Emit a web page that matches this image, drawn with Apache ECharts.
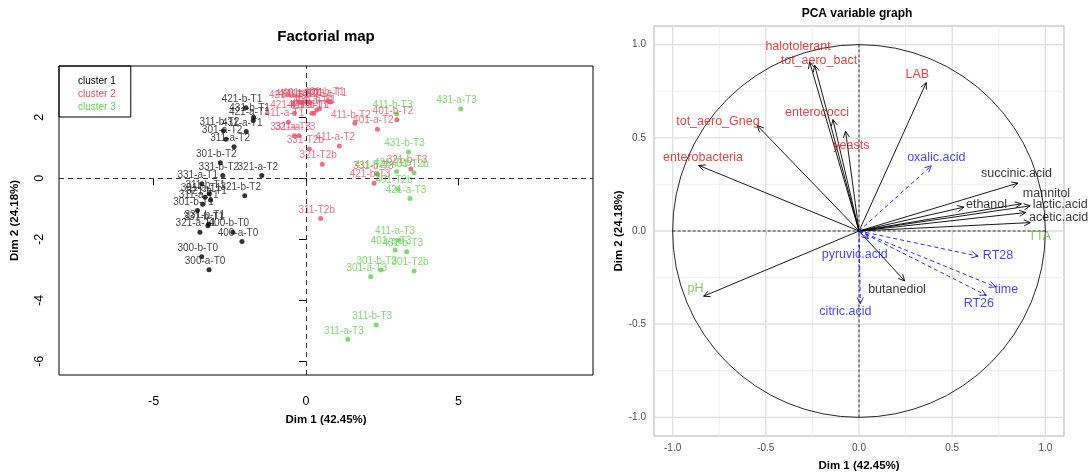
<!DOCTYPE html>
<html><head><meta charset="utf-8">
<script src="https://cdn.jsdelivr.net/npm/echarts@6/dist/echarts.min.js"></script>
<style>html,body{margin:0;padding:0;background:#fff}#c{width:1091px;height:473px}</style>
</head><body><div id="c"></div>
<script>
// ---------- Left panel: factorial map (individuals) ----------
const cluster1Names = ['421-b-T1','431-b-T1','421-a-T1','311-b-T2','431-a-T1','301-a-T2','311-a-T2','301-b-T2','331-b-T2','321-a-T2','331-a-T1','311-b-T1','301-a-T1','321-b-T1','311-a-T1','301-b-T1','321-b-T2','331-b-T1','331-b-T1','321-a-T1','400-b-T0','400-a-T0','300-b-T0','300-a-T0'];
const cluster1X = [-1.97,-1.72,-1.73,-2.71,-1.96,-2.62,-2.36,-2.81,-2.73,-1.45,-3.42,-3.17,-3.31,-3.13,-3.39,-3.56,-2.01,-3.19,-3.22,-3.48,-2.40,-2.10,-3.42,-3.18];
const cluster1Y = [2.31,2.00,1.89,1.56,1.53,1.28,1.03,0.51,0.09,0.09,-0.18,-0.51,-0.62,-0.71,-0.85,-1.06,-0.57,-1.50,-1.56,-1.77,-1.77,-2.07,-2.57,-3.00];

const cluster2Names = ['421-a-T2','431-a-T2','431-b-T2','401-a-T1','411-b-T1','401-b-T1','401-a-T1','421-b-T2','421-a-T1','411-b-T1','401-a-T2','431-b-T1','411-a-T1','331-a-T3','321-a-T3','331-T2b','411-a-T2','411-b-T2','401-a-T2','401-b-T2','321-T2b','321-b-T3','331-b-T3','421-b-T3','311-T2b'];
const cluster2X = [-0.42,-0.22,-0.11,0.02,0.13,0.73,0.81,-0.38,0.19,0.26,0.35,0.44,-0.58,-0.38,-0.23,0.11,1.09,1.60,2.34,2.98,0.53,3.44,2.34,2.23,0.48];
const cluster2Y = [2.44,2.48,2.46,2.51,2.48,2.54,2.50,2.13,2.13,2.13,2.24,2.28,1.84,1.39,1.39,0.96,1.06,1.80,1.61,1.92,0.46,0.30,0.13,-0.16,-1.32];

const cluster3Names = ['431-a-T3','411-b-T3','431-b-T3','421-T2b','411-T2b','431-T2b','401-T2b','421-a-T3','411-a-T3','401-a-T3','401-b-T3','301-T2b','301-b-T3','301-a-T3','311-b-T3','311-a-T3'];
const cluster3X = [5.07,2.97,3.36,2.97,2.32,3.54,3.01,3.41,3.05,2.92,3.30,3.54,2.45,2.12,2.30,1.37];
const cluster3Y = [2.27,2.11,0.86,0.22,0.16,0.18,-0.36,-0.66,-2.03,-2.35,-2.41,-3.04,-3.01,-3.23,-4.81,-5.28];

const clusterLabels = ['cluster 1','cluster 2','cluster 3'];
const leftXTicks = [-5,0,5];
const leftYTicks = [-6,-4,-2,0,2];

// ---------- Right panel: PCA variable graph ----------
const activeNames = ['halotolerant','tot_aero_bact','LAB','enterococci','yeasts','tot_aero_Gneg','enterobacteria','pH','TTA','butanediol','succinic.acid','ethanol','mannitol','lactic.acid','acetic.acid'];
const activeDim1 = [-0.265,-0.238,0.361,-0.140,-0.072,-0.546,-0.860,-0.834,0.919,0.245,0.853,0.563,0.871,0.919,0.894];
const activeDim2 = [0.907,0.889,0.796,0.598,0.535,0.566,0.352,-0.350,0.045,-0.268,0.257,0.128,0.146,0.135,0.099];
const activeGroup = ['micro','micro','micro','micro','micro','micro','micro','physchem','physchem','metab','metab','metab','metab','metab','metab'];
const activeLabelDim1 = [-0.327,-0.215,0.313,-0.225,-0.041,-0.757,-0.837,-0.877,0.970,0.204,0.845,0.684,1.006,1.080,1.071];
const activeLabelDim2 = [0.988,0.912,0.841,0.638,0.458,0.589,0.392,-0.309,-0.031,-0.314,0.309,0.140,0.203,0.140,0.074];

const supNames = ['oxalic.acid','RT28','time','RT26','pyruvic.acid','citric.acid'];
const supDim1 = [0.388,0.639,0.733,0.683,0.050,0.007];
const supDim2 = [0.350,-0.135,-0.300,-0.345,-0.040,-0.390];
const supLabelDim1 = [0.415,0.746,0.791,0.643,-0.023,-0.073];
const supLabelDim2 = [0.392,-0.133,-0.314,-0.387,-0.129,-0.430];

const rightTicks = [-1,-0.5,0,0.5,1];
const rightMinor = [-0.75,-0.25,0.25,0.75];

// ---------- styles ----------
const clusterColors = ['#000000','#DF536B','#61D04F'];
const groupColors = {micro:'#D41515', physchem:'#6CB83F', metab:'#000000', sup:'#1414F0'};
const FONT = "'Liberation Sans', Arial, Helvetica, sans-serif";
const L = {xmin:-8.1, xmax:9.41, ymin:-6.45, ymax:3.68};
const R = {min:-1.1, max:1.1};

function clusterSeries(i, names, xs, ys) {
  return {
    name: clusterLabels[i], type:'scatter', xAxisIndex:0, yAxisIndex:0,
    symbol:'circle', symbolSize:5, itemStyle:{color:clusterColors[i]},
    data: names.map((n,k)=>[xs[k], ys[k], n]),
    label:{show:true, position:'top', distance:1, offset:[-4,0], formatter:p=>p.data[2],
      fontSize:10, color: i===0 ? '#111' : clusterColors[i], fontFamily:FONT},
    emphasis:{disabled:true}, z:3
  };
}

const leftSeries = [
  clusterSeries(0, cluster1Names, cluster1X, cluster1Y),
  clusterSeries(1, cluster2Names, cluster2X, cluster2Y),
  clusterSeries(2, cluster3Names, cluster3X, cluster3Y)
];
leftSeries[0].markLine = {
  silent:true, symbol:['none','none'], label:{show:false},
  lineStyle:{type:[5,4], color:'#333', width:1},
  data:[{xAxis:0},{yAxis:0}]
};

const arrowData = [];
activeNames.forEach((n,k)=>arrowData.push([activeDim1[k], activeDim2[k], 0]));
supNames.forEach((n,k)=>arrowData.push([supDim1[k], supDim2[k], 1]));

const varLabelData = [];
activeNames.forEach((n,k)=>varLabelData.push({value:[activeLabelDim1[k], activeLabelDim2[k]], name:n, label:{color:groupColors[activeGroup[k]]}}));
supNames.forEach((n,k)=>varLabelData.push({value:[supLabelDim1[k], supLabelDim2[k]], name:n, label:{color:groupColors.sup}}));

const decorSeries = {
  type:'custom', xAxisIndex:1, yAxisIndex:1, silent:true, z:1,
  data:[[0,0]],
  renderItem(params, api) {
    const ch = [];
    const vline = (v, color, w) => {
      const a = api.coord([v, R.min]), b = api.coord([v, R.max]);
      ch.push({type:'line', shape:{x1:a[0],y1:a[1],x2:b[0],y2:b[1]}, style:{stroke:color, lineWidth:w}});
    };
    const hline = (v, color, w) => {
      const a = api.coord([R.min, v]), b = api.coord([R.max, v]);
      ch.push({type:'line', shape:{x1:a[0],y1:a[1],x2:b[0],y2:b[1]}, style:{stroke:color, lineWidth:w}});
    };
    rightMinor.forEach(v=>{vline(v,'#EBEBEB',0.8); hline(v,'#EBEBEB',0.8);});
    rightTicks.forEach(v=>{vline(v,'#DEDEDE',1.3); hline(v,'#DEDEDE',1.3);});
    const c = api.coord([0,0]);
    const s = api.size([1,1]);
    ch.push({type:'circle', shape:{cx:c[0], cy:c[1], r:(s[0]+s[1])/2}, style:{fill:null, stroke:'#111', lineWidth:0.9}});
    const a1 = api.coord([0,-1]), a2 = api.coord([0,1]);
    ch.push({type:'line', shape:{x1:a1[0],y1:a1[1],x2:a2[0],y2:a2[1]}, style:{stroke:'#000', lineWidth:0.8, lineDash:[3,2]}});
    const b1 = api.coord([-1,0]), b2 = api.coord([1,0]);
    ch.push({type:'line', shape:{x1:b1[0],y1:b1[1],x2:b2[0],y2:b2[1]}, style:{stroke:'#000', lineWidth:0.8, lineDash:[3,2]}});
    return {type:'group', children:ch};
  }
};

const arrowSeries = {
  type:'custom', xAxisIndex:1, yAxisIndex:1, silent:true, z:3,
  data: arrowData,
  renderItem(params, api) {
    const p0 = api.coord([0,0]);
    const p1 = api.coord([api.value(0), api.value(1)]);
    const sup = api.value(2) === 1;
    const ang = Math.atan2(p1[1]-p0[1], p1[0]-p0[0]);
    const hl = 7, ha = 0.45;
    const h1 = [p1[0]-hl*Math.cos(ang-ha), p1[1]-hl*Math.sin(ang-ha)];
    const h2 = [p1[0]-hl*Math.cos(ang+ha), p1[1]-hl*Math.sin(ang+ha)];
    const col = sup ? groupColors.sup : '#000';
    const st = {stroke:col, lineWidth:0.9, fill:null};
    if (sup) st.lineDash = [4,3];
    return {type:'group', children:[
      {type:'line', shape:{x1:p0[0],y1:p0[1],x2:p1[0],y2:p1[1]}, style:st},
      {type:'polyline', shape:{points:[h1,p1,h2]}, style:Object.assign({}, st, {lineDash:null})}
    ]};
  }
};

const varLabelSeries = {
  type:'scatter', xAxisIndex:1, yAxisIndex:1, symbolSize:0, silent:true, z:4,
  data: varLabelData,
  label:{show:true, position:'inside', formatter:p=>p.name, fontSize:12.5, fontFamily:FONT},
  emphasis:{disabled:true}
};

const chart = echarts.init(document.getElementById('c'), null, {renderer:'canvas'});
chart.setOption({
  animation:false,
  backgroundColor:'#fff',
  textStyle:{fontFamily:FONT},
  title:[
    {text:'Factorial map', left:326, top:29, textAlign:'center', padding:0,
     textStyle:{fontSize:15, fontWeight:'bold', color:'#000', fontFamily:FONT}},
    {text:'PCA variable graph', left:857, top:8, textAlign:'center', padding:0,
     textStyle:{fontSize:12, fontWeight:'bold', color:'#000', fontFamily:FONT}}
  ],
  legend:{
    left:59, top:66, orient:'vertical', selectedMode:false,
    data: clusterLabels.map((n,i)=>({name:n, textStyle:{color:clusterColors[i]}})),
    icon:'rect', itemWidth:0, itemHeight:10, itemGap:3,
    padding:[10,15,5,14], borderColor:'#000', borderWidth:1,
    textStyle:{fontSize:10, fontFamily:FONT}
  },
  grid:[
    {left:59, top:66, width:534, height:309, show:true, borderColor:'#000', borderWidth:1, backgroundColor:'#fff', containLabel:false, outerBoundsMode:'none'},
    {left:654, top:26, width:410, height:410, show:true, borderColor:'#B3B3B3', borderWidth:1, backgroundColor:'#fff', containLabel:false, outerBoundsMode:'none'}
  ],
  xAxis:[
    {type:'value', gridIndex:0, min:L.xmin, max:L.xmax,
     axisLine:{show:false}, splitLine:{show:false},
     axisTick:{show:true, customValues:leftXTicks, length:7, lineStyle:{color:'#000'}},
     axisLabel:{customValues:leftXTicks, margin:20, fontSize:12.5, color:'#000', fontFamily:FONT},
     name:'Dim 1 (42.45%)', nameLocation:'middle', nameGap:39,
     nameTextStyle:{fontSize:11.5, fontWeight:'bold', color:'#000', fontFamily:FONT}},
    {type:'value', gridIndex:1, min:R.min, max:R.max,
     axisLine:{show:false}, splitLine:{show:false},
     axisTick:{show:true, customValues:rightTicks, length:3, lineStyle:{color:'#B3B3B3'}},
     axisLabel:{customValues:rightTicks, margin:7, fontSize:10, color:'#4D4D4D', fontFamily:FONT, formatter:v=>v.toFixed(1)},
     name:'Dim 1 (42.45%)', nameLocation:'middle', nameGap:24,
     nameTextStyle:{fontSize:11.5, fontWeight:'bold', color:'#000', fontFamily:FONT}}
  ],
  yAxis:[
    {type:'value', gridIndex:0, min:L.ymin, max:L.ymax,
     axisLine:{show:false}, splitLine:{show:false},
     axisTick:{show:true, customValues:leftYTicks, length:7, lineStyle:{color:'#000'}},
     axisLabel:{customValues:leftYTicks, margin:13, rotate:90, fontSize:12.5, color:'#000', fontFamily:FONT},
     name:'Dim 2 (24.18%)', nameLocation:'middle', nameGap:38, nameRotate:90,
     nameTextStyle:{fontSize:11.5, fontWeight:'bold', color:'#000', fontFamily:FONT}},
    {type:'value', gridIndex:1, min:R.min, max:R.max,
     axisLine:{show:false}, splitLine:{show:false},
     axisTick:{show:true, customValues:rightTicks, length:3, lineStyle:{color:'#B3B3B3'}},
     axisLabel:{customValues:rightTicks, margin:8, fontSize:10, color:'#4D4D4D', fontFamily:FONT, formatter:v=>v.toFixed(1)},
     name:'Dim 2 (24.18%)', nameLocation:'middle', nameGap:25, nameRotate:90,
     nameTextStyle:{fontSize:11.5, fontWeight:'bold', color:'#000', fontFamily:FONT}}
  ],
  series:[...leftSeries, decorSeries, arrowSeries, varLabelSeries]
});
</script>
</body></html>
